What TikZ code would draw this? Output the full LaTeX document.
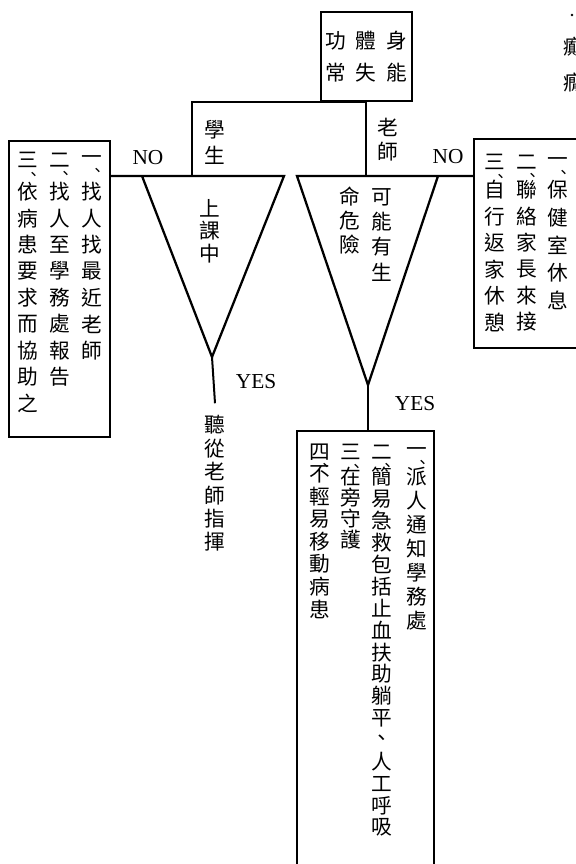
\documentclass[tikz,border=0pt]{standalone}
\usepackage{fontspec}
\setmainfont{Liberation Serif}
\newfontfamily\cjk{Noto Sans CJK TC}
\usetikzlibrary{calc}

\tikzset{
  box/.style={draw, line width=1.5pt, inner sep=0pt},
  chr/.style={inner sep=0pt, font=\cjk\fontsize{15.5}{15.5}\selectfont},
  yn/.style={inner sep=0pt, font=\fontsize{16}{16}\selectfont},
  funnel/.style={line width=1.7pt, line join=miter},
  link/.style={line width=1.5pt},
}
\newcommand{\dun}{\rlap{\smash{\raisebox{-0.6em}{\kern-0.62em\fontsize{12}{12}\selectfont 、}}}}
\newcommand{\vtext}[5]{\foreach \ch [count=\k] in {#5}{\node[chr] (#1-\k) at (#2,{#3+(\k-1)*#4}) {\ch};}}
\newcommand{\vitem}[7]{\node[chr] (#1-0) at (#2,#3) {#4\dun};\vtext{#1}{#2}{#5}{#6}{#7}}

\begin{document}
\begin{tikzpicture}[x=0.75pt,y=-0.75pt]
\useasboundingbox (0,0) rectangle (575,864);

\node[box, minimum width=91*0.75pt, minimum height=89*0.75pt, align=center,
  font=\cjk\fontsize{15.5}{24}\selectfont] (body) at (366,56.5)
  {功\kern7.5pt 體\kern7.5pt 身\\常\kern7.5pt 失\kern7.5pt 能};
\node[box, minimum width=101*0.75pt, minimum height=296*0.75pt] (stubox) at (59.5,289) {};
\node[box, minimum width=146*0.75pt, minimum height=209*0.75pt] (teabox) at (547,243.5) {};
\node[box, minimum width=137*0.75pt, minimum height=469*0.75pt] (actbox) at (365.5,665.5) {};

\coordinate (stuleg) at (192,176);
\coordinate (tealeg) at (366,176);
\coordinate (lt-l) at (142,176);
\coordinate (lt-r) at (284,176);
\coordinate (lt-v) at (212,357);
\coordinate (rt-l) at (297,176);
\coordinate (rt-r) at (438,176);
\coordinate (rt-v) at (368,385);

\vtext{stu}{215}{130}{25}{學,生}
\vtext{tea}{388}{127}{25}{老,師}
\vtext{class}{210}{208}{23}{上,課,中}
\vtext{riska}{382}{197}{25}{可,能,有,生}
\vtext{riskb}{350}{197}{24}{命,危,險}
\vtext{obey}{215}{425}{23.4}{聽,從,老,師,指,揮}

\node[yn] (no-l) at (148,158) {NO};
\node[yn] (no-r) at (448,157) {NO};
\node[yn] (yes-l) at (256,382) {YES};
\node[yn] (yes-r) at (415,404) {YES};

\draw[link] (stuleg) |- (body.south) -| (tealeg);
\draw[funnel] (stubox.east |- lt-r) -- (lt-r) -- (lt-v) -- (lt-l);
\draw[funnel] (teabox.west |- rt-l) -- (rt-l) -- (rt-v) -- (rt-r);
\draw[link] (lt-v) -- ([yshift=9pt]obey-1.north);
\draw[link] (rt-v) -- (rt-v |- actbox.north);

\vitem{s1}{92}{160}{一}{192}{26.4}{找,人,找,最,近,老,師}
\vitem{s2}{60}{160}{二}{192}{26.4}{找,人,至,學,務,處,報,告}
\vitem{s3}{28}{160}{三}{192}{26.4}{依,病,患,要,求,而,協,助,之}

\vitem{t1}{558}{162}{一}{190}{27.5}{保,健,室,休,息}
\vitem{t2}{527}{162}{二}{190}{26.4}{聯,絡,家,長,來,接}
\vitem{t3}{495}{162}{三}{190}{26.4}{自,行,返,家,休,憩}

\vitem{a1}{417}{452}{一}{477}{24}{派,人,通,知,學,務,處}
\vitem{a2}{382}{452}{二}{477}{21.9}{簡,易,急,救,包,括,止,血,扶,助,躺,平,、,人,工,呼,吸}
\vitem{a3}{351}{452}{三}{477}{21}{在,旁,守,護}
\vitem{a4}{320}{452}{四}{474}{22.5}{不,輕,易,移,動,病,患}

\node[chr] (frag-1) at (574,47) {癲};
\node[chr] (frag-2) at (574,82) {癇};
\fill (572,15) circle (1.1pt);
\end{tikzpicture}
\end{document}
